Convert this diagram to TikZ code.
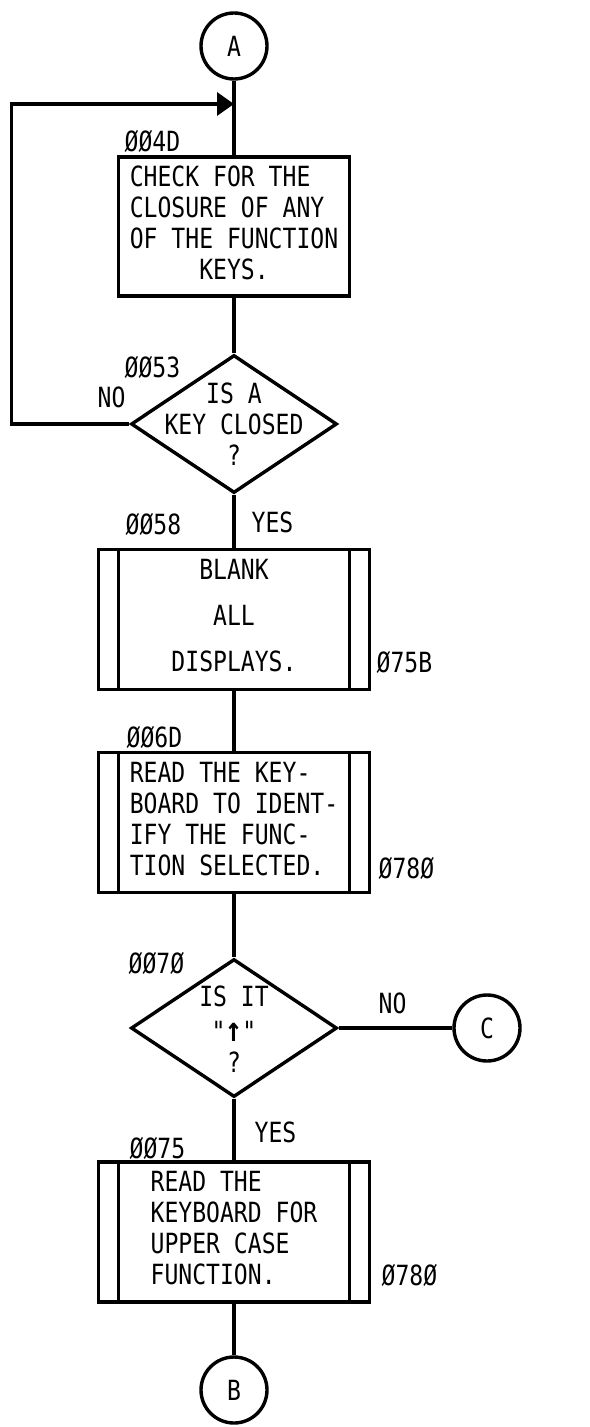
\documentclass[tikz,border=0pt]{standalone}
\usepackage{fontspec}
\newfontfamily\kbdfont{DejaVu Sans Mono}[FakeStretch=0.83]
\usetikzlibrary{shapes.geometric,arrows.meta}

\begin{document}
\begin{tikzpicture}[x=0.5pt,y=-0.5pt,line width=1.7pt,
	font=\kbdfont\fontsize{13.9pt}{15.5pt}\selectfont,
	conn/.style={draw,circle,minimum size=33pt,inner sep=0pt},
	proc/.style={draw,rectangle,minimum width=115.5pt,minimum height=69.5pt,inner sep=0pt},
	subr/.style={draw,rectangle,minimum width=135.5pt,minimum height=70pt,inner sep=0pt,
		path picture={
			\draw ([xshift=10pt]path picture bounding box.north west) -- ([xshift=10pt]path picture bounding box.south west);
			\draw ([xshift=-10pt]path picture bounding box.north east) -- ([xshift=-10pt]path picture bounding box.south east);}},
	decision/.style={draw,diamond,minimum width=103pt,minimum height=69pt,inner sep=0pt},
	addr/.style={anchor=base west,inner sep=0pt}]
	\useasboundingbox (0,0) rectangle (589,1427);
	% main column
	\node[conn] (a) at (234,46) {A};
	\coordinate (join) at (234,104);
	\node[proc] (chk) at (234,226.5) {\begin{tabular}{@{}l@{}}CHECK FOR THE\\CLOSURE OF ANY\\OF THE FUNCTION\\\multicolumn{1}{@{}c@{}}{KEYS.}\end{tabular}};
	\node[decision] (keyq) at (234,424) {\smash{\makebox[0pt]{\raisebox{-6pt}{\begin{tabular}{c}IS A\\KEY CLOSED\\?\end{tabular}}}}};
	\node[subr] (blank) at (234,619.5) {\begin{tabular}{@{}c@{}}BLANK\\[7.5pt]ALL\\[7.5pt]DISPLAYS.\end{tabular}};
	\node[subr] (rdkb) at (234,822.5) {\begin{tabular}{@{}l@{}}READ THE KEY-\\BOARD TO IDENT-\\IFY THE FUNC-\\TION SELECTED.\end{tabular}};
	\node[decision] (upq) at (234,1028) {\smash{\makebox[0pt]{\raisebox{-6pt}{\begin{tabular}{c}IS IT\\[2pt]"{\fontsize{17pt}{15.5pt}\selectfont\bfseries ↑}"\\?\end{tabular}}}}};
	\node[conn] (c) at (487,1028) {C};
	\node[subr] (rdup) at (234,1232) {\begin{tabular}{@{}l@{}}READ THE\\KEYBOARD FOR\\UPPER CASE\\FUNCTION.\end{tabular}};
	\node[conn] (b) at (234,1390) {B};
	% addresses and branch labels
	\node[addr] (l4d) at (123,152) {ØØ4D};
	\node[addr] (l53) at (123,378) {ØØ53};
	\node[addr] (no1) at (96,408) {NO};
	\node[addr] (l58) at (124,534) {ØØ58};
	\node[addr] (yes1) at (250,532) {YES};
	\node[addr] (l75b) at (375,672) {Ø75B};
	\node[addr] (l6d) at (125,747) {ØØ6D};
	\node[addr] (l780a) at (377,878) {Ø78Ø};
	\node[addr] (l70) at (127,973) {ØØ7Ø};
	\node[addr] (no2) at (377,1013) {NO};
	\node[addr] (yes2) at (253,1142) {YES};
	\node[addr] (l75) at (128,1158) {ØØ75};
	\node[addr] (l780b) at (380,1285) {Ø78Ø};
	% flow lines
	\draw (a) -- (chk);
	\draw (chk) -- (keyq);
	\draw (keyq) -- (blank);
	\draw (blank) -- (rdkb);
	\draw (rdkb) -- (upq);
	\draw (upq) -- (c);
	\draw (upq) -- (rdup);
	\draw (rdup) -- (b);
	\draw[-{Triangle[length=8.5pt,width=11.5pt]}] (keyq.west) -- ++(-118,0) |- (join);
\end{tikzpicture}
\end{document}
